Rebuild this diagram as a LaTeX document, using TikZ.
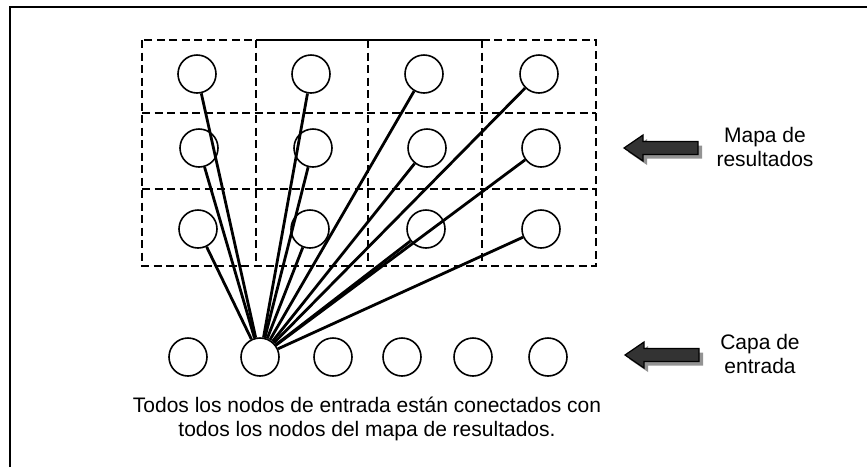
\documentclass[tikz,border=0pt]{standalone}
\usepackage{fontspec}
\setmainfont{Liberation Sans}
\usepackage{tikz}

\begin{document}
\begin{tikzpicture}[x=1pt,y=-1pt,
  neurona/.style={circle,draw,line width=1.6pt,minimum size=38pt,inner sep=0pt},
  celda/.style={line width=1.4pt,dash pattern=on 8pt off 4.5pt},
  enlace/.style={line width=2.8pt},
  rotulo/.style={align=center,font=\fontsize{21}{23.5}\selectfont}]

\useasboundingbox (0,0) rectangle (867,467);
\draw[line width=1.6pt] (10,467) -- (10,7) -- (867,7);

% mapa de resultados
\draw[celda] (142,40) rectangle (596,266);
\draw[celda] (142,113) -- (596,113);
\draw[celda] (142,189) -- (596,189);
\draw[celda] (256,40) -- (256,266);
\draw[celda] (368,40) -- (368,266);
\draw[celda] (482,40) -- (482,266);
\draw[line width=1.4pt] (256,40) -- (482,40);

\node[neurona] (m11) at (197,74) {};
\node[neurona] (m12) at (311,74) {};
\node[neurona] (m13) at (424,74) {};
\node[neurona] (m14) at (539,74) {};

\node[neurona] (m21) at (199,148) {};
\node[neurona] (m22) at (313,148) {};
\node[neurona] (m23) at (427,148) {};
\node[neurona] (m24) at (541,148) {};

\node[neurona] (m31) at (198,229) {};
\node[neurona] (m32) at (310,229) {};
\node[neurona] (m33) at (426,229) {};
\node[neurona] (m34) at (541,229) {};

% capa de entrada
\node[neurona] (e1) at (188,357) {};
\node[neurona] (e2) at (260,357) {};
\node[neurona] (e3) at (333,357) {};
\node[neurona] (e4) at (402,357) {};
\node[neurona] (e5) at (473,357) {};
\node[neurona] (e6) at (548,357) {};

\draw[enlace] (e2) -- (m11);
\draw[enlace] (e2) -- (m12);
\draw[enlace] (e2) -- (m13);
\draw[enlace] (e2) -- (m14);
\draw[enlace] (e2) -- (m21);
\draw[enlace] (e2) -- (m22);
\draw[enlace] (e2) -- (m23);
\draw[enlace] (e2) -- (m24);
\draw[enlace] (e2) -- (m31);
\draw[enlace] (e2) -- (m32);
\draw[enlace] (e2) -- (m33);
\draw[enlace] (e2) -- (m34);

% flechas
\fill[gray!85] (628,152) -- (647,139) -- (647,145.5) -- (702,145.5) -- (702,158.5) -- (647,158.5) -- (647,165) -- cycle;
\filldraw[fill=black!80,line width=1.2pt,line join=miter] (624,148) -- (643,135) -- (643,141.5) -- (698,141.5) -- (698,154.5) -- (643,154.5) -- (643,161) -- cycle;
\node[rotulo] (mapa) at (765,147) {Mapa de\\resultados};

\fill[gray!85] (629,359) -- (648,346) -- (648,352.5) -- (703,352.5) -- (703,365.5) -- (648,365.5) -- (648,372) -- cycle;
\filldraw[fill=black!80,line width=1.2pt,line join=miter] (625,355) -- (644,342) -- (644,348.5) -- (699,348.5) -- (699,361.5) -- (644,361.5) -- (644,368) -- cycle;
\node[rotulo] (capa) at (760,354) {Capa de\\entrada};

\node[rotulo] (pie) at (367,419) {Todos los nodos de entrada están conectados con\\todos los nodos del mapa de resultados.};
\end{tikzpicture}
\end{document}
